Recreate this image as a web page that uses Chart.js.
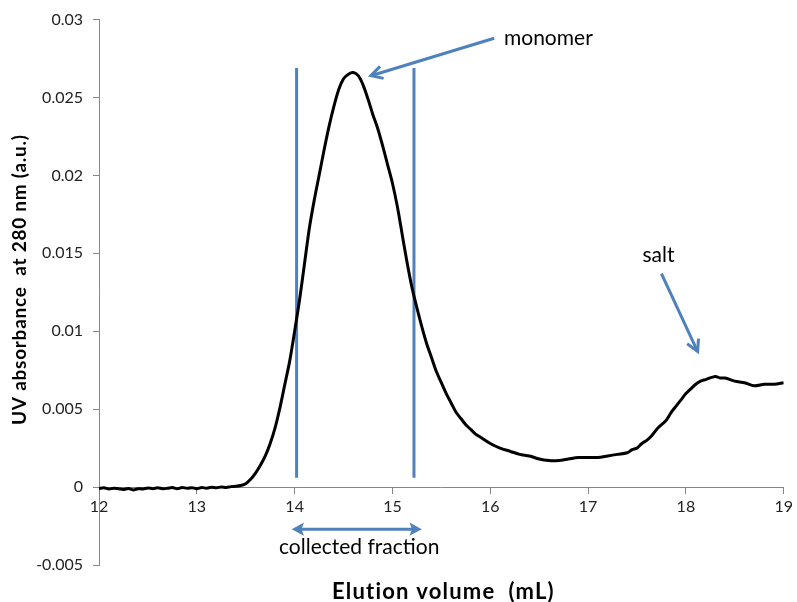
<!DOCTYPE html>
<html>
<head>
<meta charset="utf-8">
<script src="https://cdn.jsdelivr.net/npm/chart.js@4.4.0/dist/chart.umd.min.js"></script>
<style>
  html, body { margin: 0; padding: 0; background: #fff; }
</style>
</head>
<body>
<canvas id="elutionChart" width="797" height="602"></canvas>
<script>
// elution volume (mL) and UV absorbance
const elutionVolume = [
  12.00, 12.05, 12.10, 12.15, 12.20, 12.25, 12.30, 12.35, 12.40, 12.45,
  12.50, 12.55, 12.60, 12.65, 12.70, 12.75, 12.80, 12.85, 12.90, 12.95,
  13.00, 13.05, 13.10, 13.15, 13.20, 13.25, 13.30, 13.35, 13.40, 13.45,
  13.50, 13.55, 13.60, 13.65, 13.70, 13.75, 13.80, 13.85, 13.90, 13.95,
  14.00, 14.05, 14.10, 14.15, 14.20, 14.25, 14.30, 14.35, 14.40, 14.45,
  14.50, 14.55, 14.60, 14.65, 14.70, 14.75, 14.80, 14.85, 14.90, 14.95,
  15.00, 15.05, 15.10, 15.15, 15.20, 15.25, 15.30, 15.35, 15.40, 15.45,
  15.50, 15.55, 15.60, 15.65, 15.70, 15.75, 15.80, 15.85, 15.90, 16.00,
  16.10, 16.20, 16.30, 16.40, 16.50, 16.60, 16.70, 16.80, 16.90, 17.00,
  17.10, 17.20, 17.30, 17.40, 17.45, 17.50, 17.55, 17.60, 17.65, 17.70,
  17.75, 17.80, 17.85, 17.90, 17.95, 18.00, 18.05, 18.10, 18.15, 18.20,
  18.30, 18.35, 18.40, 18.50, 18.60, 18.70, 18.80, 18.90, 19.00
];
const absorbance = [
  -0.0001, -0.00005, -0.00012, -0.00008, -0.0001, -0.00015, -0.00009, -0.00018, -0.0001, -0.00012,
  -0.00006, -0.0001, -0.00004, -0.0001, -0.00008, -0.00003, -0.00011, -0.00002, -0.00008, -0.00004,
  -0.0001, -0.00003, -0.00007, -0.00001, -0.00005, 0.00001, -0.00002, 0.00003, 0.00005, 0.0001,
  0.00022, 0.0005, 0.0009, 0.0014, 0.0020, 0.0028, 0.0038, 0.0051, 0.0066, 0.0081,
  0.0100, 0.0120, 0.0143, 0.0166, 0.0184, 0.0200, 0.0216, 0.0231, 0.0244, 0.0255,
  0.0262, 0.0265, 0.0266, 0.0264, 0.0258, 0.0249, 0.0239, 0.0230, 0.0219, 0.0207,
  0.0195, 0.0180, 0.0162, 0.0144, 0.0128, 0.0115, 0.0103, 0.0092, 0.0083, 0.0074,
  0.0067, 0.0060, 0.0054, 0.0048, 0.0044, 0.0040, 0.0037, 0.0034, 0.0032, 0.0028,
  0.0025, 0.0023, 0.0021, 0.0020, 0.0018, 0.0017, 0.0017, 0.0018, 0.0019, 0.0019,
  0.0019, 0.0020, 0.0021, 0.0022, 0.0024, 0.0025, 0.0028, 0.0030, 0.0033, 0.0037,
  0.0040, 0.0043, 0.0048, 0.0052, 0.0056, 0.0060, 0.0063, 0.0066, 0.0068, 0.0069,
  0.0071, 0.0070, 0.0070, 0.0068, 0.0067, 0.0065, 0.0066, 0.0066, 0.0067
];

const xTicks = [12, 13, 14, 15, 16, 17, 18, 19];
const xTickLabels = ['12', '13', '14', '15', '16', '17', '18', '19'];
const yTicks = [-0.005, 0, 0.005, 0.01, 0.015, 0.02, 0.025, 0.03];
const yTickLabels = ['-0.005', '0', '0.005', '0.01', '0.015', '0.02', '0.025', '0.03'];

// fraction cut lines (mL) and their vertical extent (a.u.)
const fractionCuts = [14.02, 15.22];
const cutRange = [0.0006, 0.0269];

// annotations, in data units [mL, a.u.]
const monomerArrow = [[16.04, 0.0288], [14.78, 0.0264]];
const monomerLabel = [16.14, 0.0288];
const saltArrow = [[17.75, 0.0137], [18.12, 0.0087]];
const saltLabel = [17.72, 0.0149];
const fractionArrow = [[13.97, -0.0027], [15.30, -0.0027]];
const fractionLabel = [14.66, -0.00385];

const BLUE = '#4f81bd';
const AXIS = '#868686';
const FONT = 'Lato, "Open Sans", sans-serif';

function openHead(ctx, from, to, len, spread) {
  const a = Math.atan2(to[1] - from[1], to[0] - from[0]);
  ctx.beginPath();
  ctx.moveTo(to[0] - len * Math.cos(a - spread), to[1] - len * Math.sin(a - spread));
  ctx.lineTo(to[0], to[1]);
  ctx.lineTo(to[0] - len * Math.cos(a + spread), to[1] - len * Math.sin(a + spread));
  ctx.stroke();
}

function filledHead(ctx, from, to, len, spread) {
  const a = Math.atan2(to[1] - from[1], to[0] - from[0]);
  ctx.beginPath();
  ctx.moveTo(to[0], to[1]);
  ctx.lineTo(to[0] - len * Math.cos(a - spread), to[1] - len * Math.sin(a - spread));
  ctx.lineTo(to[0] - len * 0.7 * Math.cos(a), to[1] - len * 0.7 * Math.sin(a));
  ctx.lineTo(to[0] - len * Math.cos(a + spread), to[1] - len * Math.sin(a + spread));
  ctx.closePath();
  ctx.fill();
}

// centred text, widened toward a target width with a little letter spacing
function spacedText(ctx, text, cx, cy, target) {
  ctx.letterSpacing = '0px';
  const w = ctx.measureText(text).width;
  const gap = Math.max(0, Math.min(1.2, (target - w) / (text.length - 1)));
  const total = w + gap * (text.length - 1);
  ctx.letterSpacing = gap + 'px';
  ctx.textAlign = 'left';
  ctx.fillText(text, cx - total / 2, cy);
  ctx.letterSpacing = '0px';
}

const annotate = {
  id: 'annotate',
  afterDraw(chart) {
    const { ctx, scales: { x, y } } = chart;
    const px = p => [x.getPixelForValue(p[0]), y.getPixelForValue(p[1])];
    ctx.save();
    ctx.strokeStyle = BLUE;
    ctx.fillStyle = BLUE;
    ctx.lineWidth = 3;

    let a = px(monomerArrow[0]), b = px(monomerArrow[1]);
    ctx.beginPath(); ctx.moveTo(a[0], a[1]); ctx.lineTo(b[0], b[1]); ctx.stroke();
    openHead(ctx, a, b, 13, 0.5);

    a = px(saltArrow[0]); b = px(saltArrow[1]);
    ctx.beginPath(); ctx.moveTo(a[0], a[1]); ctx.lineTo(b[0], b[1]); ctx.stroke();
    openHead(ctx, a, b, 13, 0.5);

    a = px(fractionArrow[0]); b = px(fractionArrow[1]);
    ctx.beginPath(); ctx.moveTo(a[0] + 6, a[1]); ctx.lineTo(b[0] - 6, b[1]); ctx.stroke();
    filledHead(ctx, a, b, 14, 0.5);
    filledHead(ctx, b, a, 14, 0.5);

    ctx.fillStyle = '#000';
    ctx.font = '21px ' + FONT;
    ctx.textBaseline = 'middle';
    let p = px(monomerLabel);
    ctx.textAlign = 'left';
    ctx.fillText('monomer', p[0], p[1]);
    p = px(saltLabel);
    ctx.textAlign = 'center';
    ctx.fillText('salt', p[0], p[1]);
    p = px(fractionLabel);
    ctx.fillText('collected fraction', p[0], p[1]);

    // axis titles
    ctx.font = 'bold 22px ' + FONT;
    spacedText(ctx, 'Elution volume  (mL)', 443, 592, 234);
    ctx.translate(20, 280);
    ctx.rotate(-Math.PI / 2);
    ctx.font = 'bold 19px ' + FONT;
    spacedText(ctx, 'UV absorbance  at 280 nm (a.u.)', 0, 0, 290);
    ctx.restore();
  }
};

const cutSets = fractionCuts.map(v => ({
  data: [{ x: v, y: cutRange[0] }, { x: v, y: cutRange[1] }],
  borderColor: BLUE,
  borderWidth: 3,
  pointRadius: 0,
  order: 1
}));

new Chart(document.getElementById('elutionChart'), {
  type: 'line',
  data: {
    datasets: [
      {
        data: elutionVolume.map((v, i) => ({ x: v, y: absorbance[i] })),
        borderColor: '#000',
        borderWidth: 3,
        pointRadius: 0,
        tension: 0.3,
        order: 0
      },
      ...cutSets
    ]
  },
  options: {
    responsive: false,
    animation: false,
    events: [],
    layout: { padding: { top: 19, right: 12, bottom: 37, left: 0 } },
    plugins: { legend: { display: false }, tooltip: { enabled: false } },
    scales: {
      x: {
        type: 'linear',
        min: 12,
        max: 19,
        position: { y: 0 },
        afterBuildTicks: s => { s.ticks = xTicks.map(v => ({ value: v })); },
        ticks: {
          callback: (v, i) => xTickLabels[i],
          font: { family: FONT, size: 16 },
          color: '#222',
          padding: 4,
          maxRotation: 0
        },
        grid: { drawOnChartArea: false, drawTicks: true, tickLength: 6, color: AXIS },
        border: { color: AXIS, width: 1 }
      },
      y: {
        type: 'linear',
        min: -0.005,
        max: 0.03,
        afterFit: s => { s.width = 99; },
        afterBuildTicks: s => { s.ticks = yTicks.map(v => ({ value: v })); },
        ticks: {
          callback: (v, i) => yTickLabels[i],
          font: { family: FONT, size: 16 },
          color: '#222',
          padding: 10
        },
        grid: { drawOnChartArea: false, drawTicks: true, tickLength: 6, color: AXIS },
        border: { color: AXIS, width: 1 }
      }
    }
  },
  plugins: [annotate]
});
</script>
</body>
</html>
